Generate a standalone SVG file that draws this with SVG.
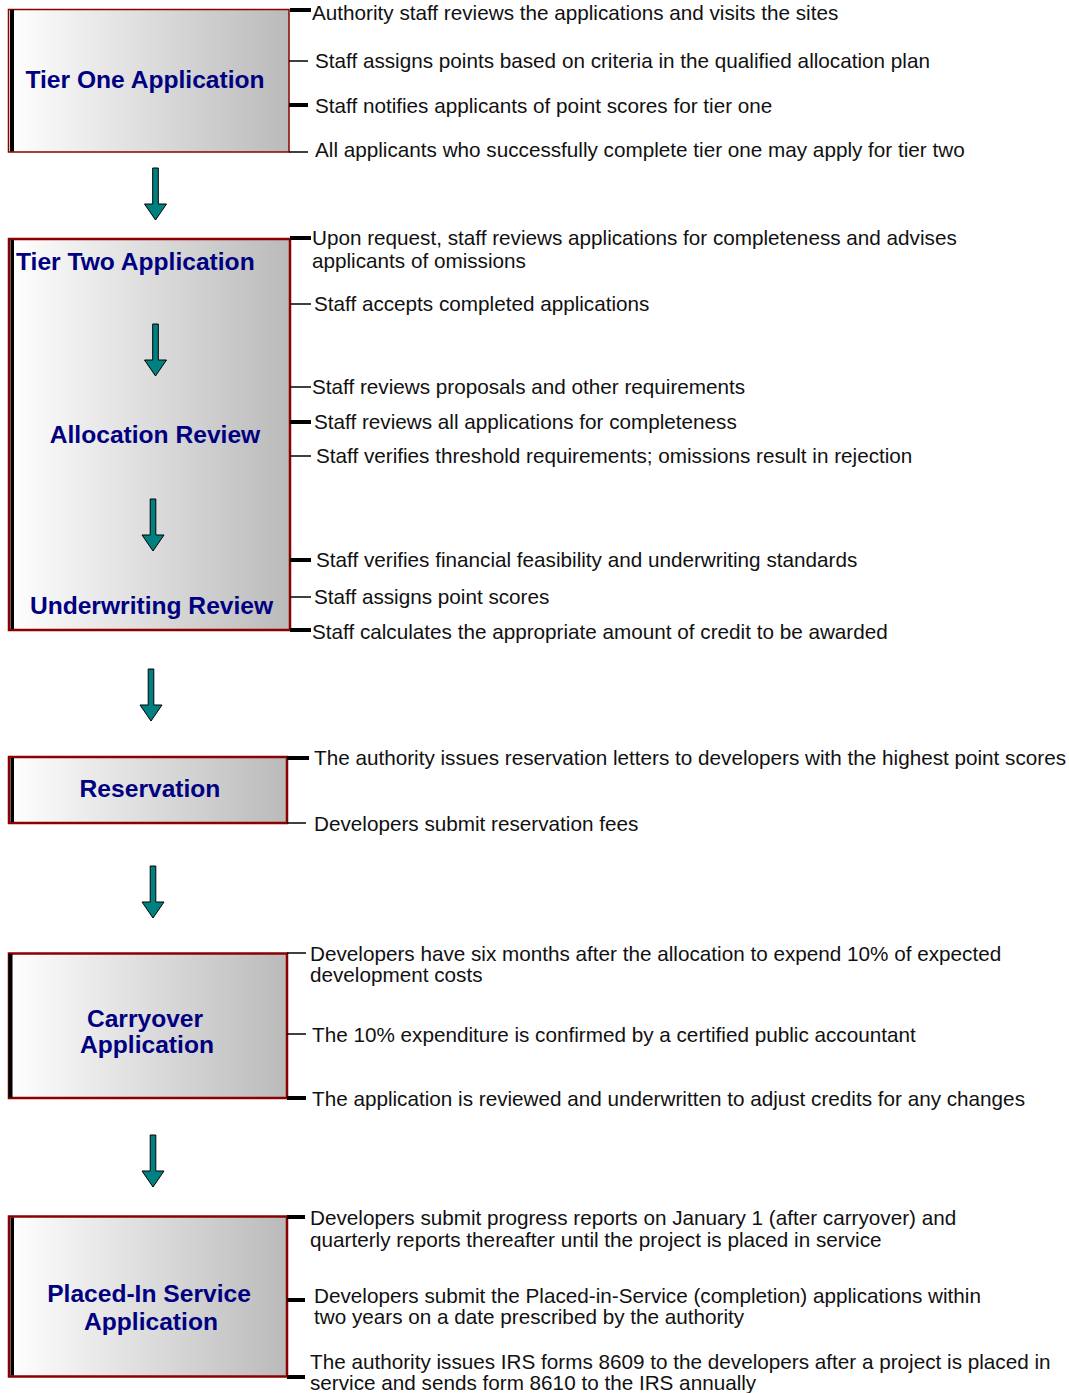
<svg xmlns="http://www.w3.org/2000/svg" width="1069" height="1393" viewBox="0 0 1069 1393">
  <defs>
    <linearGradient id="boxFill" x1="0" y1="0" x2="1" y2="0">
      <stop offset="0" stop-color="#ffffff"/>
      <stop offset="1" stop-color="#bababa"/>
    </linearGradient>
    <!-- downward block arrow, origin at top centre of the shaft -->
    <path id="downArrow" d="M-2.8,0 H2.8 V36 H11 L0,52 L-11,36 H-2.8 Z"/>
    <style>
      .box { fill: url(#boxFill); stroke: #8b0000; stroke-width: 2.5; }
      .box.thin { stroke-width: 1.5; }
      .edge { fill: #000; }
      .title { font-family: "Liberation Sans", Arial, sans-serif; font-weight: bold; font-size: 24.6px; fill: #000080; }
      .note { font-family: "Liberation Sans", Arial, sans-serif; font-size: 20.7px; fill: #111; }
      .tick { stroke: #000; fill: none; }
      .tick.thick { stroke-width: 4; }
      .tick.fine { stroke-width: 1.5; }
      .arrow { fill: #008080; stroke: #000; stroke-width: 1; }
    </style>
  </defs>

  <!-- Stage nodes -->
  <g id="tier-one">
    <rect class="box thin" x="8.5" y="9.5" width="280.5" height="142.5"/>
    <rect class="edge" x="10" y="10" width="4" height="141.5"/>
    <text class="title" x="145" y="87.5" text-anchor="middle">Tier One Application</text>
  </g>

  <g id="tier-two">
    <rect class="box" x="9" y="239" width="281" height="391"/>
    <rect class="edge" x="10.5" y="240" width="3.5" height="389"/>
    <text class="title" x="16" y="270">Tier Two Application</text>
    <text class="title" x="155" y="442.5" text-anchor="middle">Allocation Review</text>
    <text class="title" x="151.5" y="613.5" text-anchor="middle">Underwriting Review</text>
  </g>

  <g id="reservation">
    <rect class="box" x="9" y="757" width="278" height="66"/>
    <rect class="edge" x="10.5" y="758" width="3.5" height="64"/>
    <text class="title" x="150" y="796.5" text-anchor="middle">Reservation</text>
  </g>

  <g id="carryover">
    <rect class="box" x="9" y="953.5" width="278" height="144.5"/>
    <rect class="edge" x="8.5" y="954" width="4" height="143.5"/>
    <text class="title" x="145" y="1026.5" text-anchor="middle">Carryover</text>
    <text class="title" x="147" y="1052.5" text-anchor="middle">Application</text>
  </g>

  <g id="placed-in-service">
    <rect class="box" x="9" y="1216.5" width="278" height="160"/>
    <rect class="edge" x="10.5" y="1217.5" width="3.5" height="158"/>
    <text class="title" x="149" y="1301.5" text-anchor="middle">Placed-In Service</text>
    <text class="title" x="151" y="1329.5" text-anchor="middle">Application</text>
  </g>

  <!-- Flow arrows and bracket ticks -->
  <g id="connectors">
    <use href="#downArrow" class="arrow" transform="translate(155.5,168)"/>
    <use href="#downArrow" class="arrow" transform="translate(155.5,324)"/>
    <use href="#downArrow" class="arrow" transform="translate(153,499)"/>
    <use href="#downArrow" class="arrow" transform="translate(151,669)"/>
    <use href="#downArrow" class="arrow" transform="translate(153,866)"/>
    <use href="#downArrow" class="arrow" transform="translate(153,1135)"/>

    <line class="tick thick" x1="290" y1="10" x2="311" y2="10"/>
    <line class="tick fine" x1="289" y1="61" x2="308" y2="61"/>
    <line class="tick thick" x1="289" y1="105" x2="308" y2="105"/>
    <line class="tick fine" x1="289" y1="152" x2="308" y2="152"/>

    <line class="tick thick" x1="290" y1="238" x2="311" y2="238"/>
    <line class="tick fine" x1="290" y1="304" x2="311" y2="304"/>
    <line class="tick fine" x1="290" y1="387" x2="311" y2="387"/>
    <line class="tick thick" x1="290" y1="422" x2="311" y2="422"/>
    <line class="tick fine" x1="290" y1="456" x2="311" y2="456"/>
    <line class="tick thick" x1="290" y1="560" x2="311" y2="560"/>
    <line class="tick fine" x1="290" y1="597" x2="311" y2="597"/>
    <line class="tick thick" x1="290" y1="630" x2="311" y2="630"/>

    <line class="tick thick" x1="287" y1="758" x2="309" y2="758"/>
    <line class="tick fine" x1="287" y1="823" x2="306" y2="823"/>

    <line class="tick fine" x1="287" y1="953" x2="306" y2="953"/>
    <line class="tick fine" x1="287" y1="1034" x2="306" y2="1034"/>
    <line class="tick thick" x1="287" y1="1098" x2="306" y2="1098"/>

    <line class="tick thick" x1="287" y1="1217" x2="305" y2="1217"/>
    <line class="tick thick" x1="287" y1="1300" x2="305" y2="1300"/>
    <line class="tick thick" x1="287" y1="1377" x2="305" y2="1377"/>
  </g>

  <!-- Step descriptions -->
  <g id="notes">
    <text class="note" x="312" y="20">Authority staff reviews the applications and visits the sites</text>
    <text class="note" x="315" y="68">Staff assigns points based on criteria in the qualified allocation plan</text>
    <text class="note" x="315" y="113">Staff notifies applicants of point scores for tier one</text>
    <text class="note" x="315" y="157">All applicants who successfully complete tier one may apply for tier two</text>

    <text class="note" x="312" y="245">Upon request, staff reviews applications for completeness and advises</text>
    <text class="note" x="312" y="268">applicants of omissions</text>
    <text class="note" x="314" y="311">Staff accepts completed applications</text>
    <text class="note" x="312" y="394">Staff reviews proposals and other requirements</text>
    <text class="note" x="314" y="429">Staff reviews all applications for completeness</text>
    <text class="note" x="316" y="463">Staff verifies threshold requirements; omissions result in rejection</text>
    <text class="note" x="316" y="567">Staff verifies financial feasibility and underwriting standards</text>
    <text class="note" x="314" y="604">Staff assigns point scores</text>
    <text class="note" x="312" y="639">Staff calculates the appropriate amount of credit to be awarded</text>

    <text class="note" x="314" y="765">The authority issues reservation letters to developers with the highest point scores</text>
    <text class="note" x="314" y="831">Developers submit reservation fees</text>

    <text class="note" x="310" y="960.5">Developers have six months after the allocation to expend 10% of expected</text>
    <text class="note" x="310" y="981.5">development costs</text>
    <text class="note" x="312" y="1042">The 10% expenditure is confirmed by a certified public accountant</text>
    <text class="note" x="312" y="1106">The application is reviewed and underwritten to adjust credits for any changes</text>

    <text class="note" x="310" y="1225">Developers submit progress reports on January 1 (after carryover) and</text>
    <text class="note" x="310" y="1247">quarterly reports thereafter until the project is placed in service</text>
    <text class="note" x="314" y="1303">Developers submit the Placed-in-Service (completion) applications within</text>
    <text class="note" x="314" y="1324">two years on a date prescribed by the authority</text>
    <text class="note" x="310" y="1368.5">The authority issues IRS forms 8609 to the developers after a project is placed in</text>
    <text class="note" x="310" y="1389.5">service and sends form 8610 to the IRS annually</text>
  </g>
</svg>
